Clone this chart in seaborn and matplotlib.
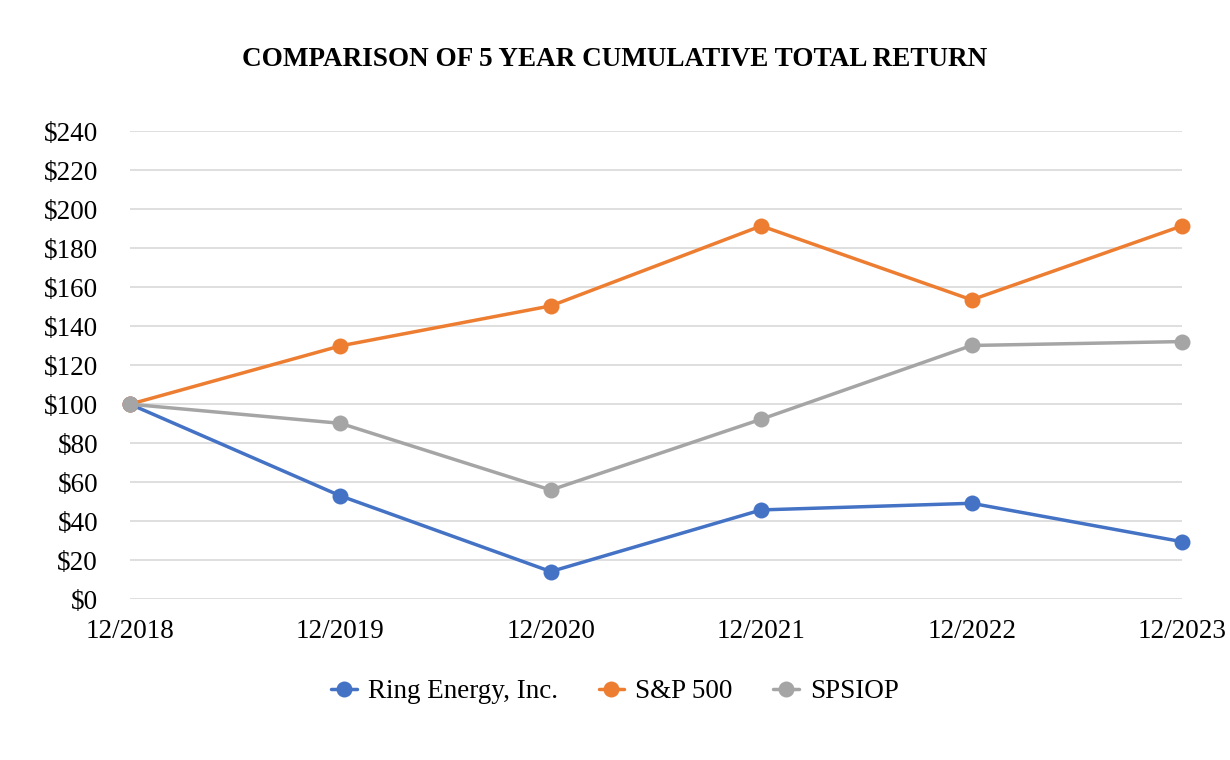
import matplotlib
matplotlib.use("Agg")
import matplotlib.pyplot as plt
import seaborn as sns
import pandas as pd
from matplotlib.lines import Line2D

years = ["12/2018", "12/2019", "12/2020", "12/2021", "12/2022", "12/2023"]
ring = [100, 53.0, 14.2, 45.8, 49.2, 29.5]
sp500 = [100, 129.9, 150.4, 191.4, 153.5, 191.4]
spsiop = [100, 90.2, 56.0, 92.3, 130.1, 132.1]
series_names = ["Ring Energy, Inc.", "S&P 500", "SPSIOP"]
yticks = list(range(0, 241, 20))

rows = []
for name, vals in zip(series_names, [ring, sp500, spsiop]):
    for i, (yr, v) in enumerate(zip(years, vals)):
        rows.append({"pos": i, "year": yr, "value": v, "series": name})
df = pd.DataFrame(rows)

sns.set_theme(style="white")
plt.rcParams["font.family"] = ["Liberation Serif", "DejaVu Serif"]
plt.rcParams["text.color"] = "black"
plt.rcParams["xtick.color"] = "black"
plt.rcParams["ytick.color"] = "black"

palette = {"Ring Energy, Inc.": "#4472C4", "S&P 500": "#ED7D31", "SPSIOP": "#A5A5A5"}
FS = 19.5

fig = plt.figure(figsize=(12.3, 7.6), dpi=100)
ax = fig.add_axes([0.1057, 0.2115, 0.8553, 0.616])

sns.lineplot(data=df, x="pos", y="value", hue="series", hue_order=series_names,
             palette=palette, marker="o", markersize=11.5, markeredgewidth=0,
             linewidth=2.5, ax=ax, legend=False, zorder=3)
for line in ax.lines:
    line.set_clip_on(False)

ax.set_xlim(0, len(years) - 1)
ax.set_ylim(0, 240)
ax.set_yticks(yticks)
ax.set_yticklabels([f"${v}" for v in yticks], fontsize=FS)
ax.set_xticks(range(len(years)))
ax.set_xticklabels(years, fontsize=FS)
ax.tick_params(axis="both", length=0)
ax.tick_params(axis="y", pad=23)
ax.tick_params(axis="x", pad=14)
ax.yaxis.grid(True, color="#D9D9D9", linewidth=1.2)
ax.xaxis.grid(False)
for s in ax.spines.values():
    s.set_visible(False)
ax.set_xlabel("")
ax.set_ylabel("")

fig.text(0.5, 0.922, "COMPARISON OF 5 YEAR CUMULATIVE TOTAL RETURN",
         ha="center", va="center", fontsize=FS, fontweight="bold")

handles = [Line2D([0], [0], color=palette[n], marker="o", markersize=11.5,
                  markeredgewidth=0, linewidth=2.5) for n in series_names]
fig.legend(handles, series_names, loc="center", bbox_to_anchor=(0.5, 0.09),
           ncol=3, frameon=False, fontsize=FS, handlelength=0.95,
           columnspacing=1.5, handletextpad=0.4)

fig.savefig("out.png", dpi=100)
